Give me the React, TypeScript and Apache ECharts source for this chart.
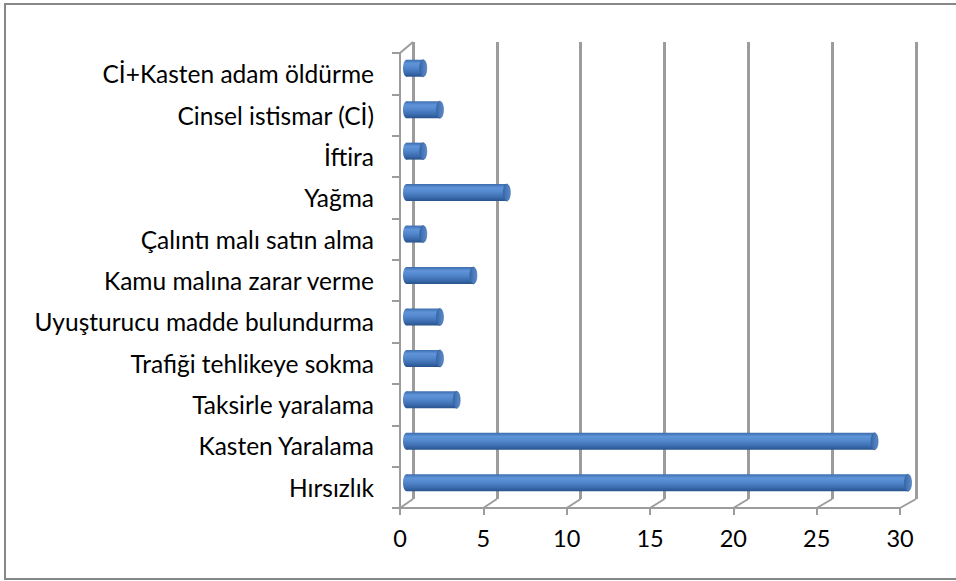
import React, { useEffect, useRef } from 'react';
import * as echarts from 'echarts';

const categories = [
  'Cİ+Kasten adam öldürme',
  'Cinsel istismar (Cİ)',
  'İftira',
  'Yağma',
  'Çalıntı malı satın alma',
  'Kamu malına zarar verme',
  'Uyuşturucu madde bulundurma',
  'Trafiği tehlikeye sokma',
  'Taksirle yaralama',
  'Kasten Yaralama',
  'Hırsızlık',
];
const values = [1, 2, 1, 6, 1, 4, 2, 2, 3, 28, 30];
const xTicks = [0, 5, 10, 15, 20, 25, 30];
const X_MIN = 0;
const X_MAX = 30;
const X_INTERVAL = 5;

const FRONT = { left: 400, top: 53, width: 500, height: 455 };
const BACK = { left: 413, top: 42, width: 503, height: 457 };
const MID = { left: 406.5, top: 47.5, width: 501.5, height: 456 };
const GRID_COLOR = '#9c9c9c';
const FONT = 'Lato, "Open Sans", sans-serif';

export default function App() {
  const ref = useRef<HTMLDivElement>(null);
  useEffect(() => {
    if (!ref.current) return;
    const chart = echarts.init(ref.current, null, { renderer: 'svg' });
    const barGrad = new echarts.graphic.LinearGradient(0, 0, 0, 1, [
      { offset: 0, color: '#3c6dae' },
      { offset: 0.22, color: '#5f94d9' },
      { offset: 0.45, color: '#5489cf' },
      { offset: 0.8, color: '#3a6aac' },
      { offset: 1, color: '#28528c' },
    ]);
    const capGrad = new echarts.graphic.LinearGradient(0, 0, 1, 0, [
      { offset: 0, color: '#3a68a8' },
      { offset: 1, color: '#5a8bcc' },
    ]);
    const option: any = {
      animation: false,
      backgroundColor: '#ffffff',
      graphic: [
        {
          type: 'rect',
          shape: { x: 5, y: 4, width: 960, height: 575 },
          style: { fill: 'none', stroke: '#878787', lineWidth: 2 },
          silent: true,
        },
      ],
      grid: [
        { ...FRONT, containLabel: false },
        { ...BACK, containLabel: false },
        { ...MID, containLabel: false },
      ],
      xAxis: [
        {
          gridIndex: 0,
          type: 'value',
          min: X_MIN,
          max: X_MAX,
          interval: X_INTERVAL,
          axisLine: { show: true, lineStyle: { color: GRID_COLOR, width: 2 } },
          axisTick: { show: true, length: 7, lineStyle: { color: GRID_COLOR, width: 2 } },
          splitLine: { show: false },
          axisLabel: { color: '#000', fontSize: 23.5, fontFamily: FONT, margin: 18 },
        },
        {
          gridIndex: 1,
          type: 'value',
          min: X_MIN,
          max: X_MAX,
          interval: X_INTERVAL,
          axisLine: { show: false },
          axisTick: { show: false },
          axisLabel: { show: false },
          splitLine: { show: true, lineStyle: { color: GRID_COLOR, width: 3 } },
        },
        {
          gridIndex: 2,
          type: 'value',
          min: X_MIN,
          max: X_MAX,
          interval: X_INTERVAL,
          show: false,
          splitLine: { show: false },
        },
      ],
      yAxis: [
        {
          gridIndex: 0,
          type: 'category',
          inverse: true,
          data: categories,
          axisLine: { show: true, lineStyle: { color: GRID_COLOR, width: 2 } },
          axisTick: { show: true, length: 8, lineStyle: { color: GRID_COLOR, width: 2 } },
          axisLabel: { color: '#000', fontSize: 24.5, fontFamily: FONT, margin: 26 },
          splitLine: { show: false },
        },
        {
          gridIndex: 1,
          type: 'value',
          min: 0,
          max: 1,
          show: false,
          splitLine: { show: false },
        },
        {
          gridIndex: 2,
          type: 'category',
          inverse: true,
          data: categories,
          show: false,
        },
      ],
      series: [
        {
          type: 'custom',
          xAxisIndex: 1,
          yAxisIndex: 1,
          silent: true,
          clip: false,
          data: [...xTicks.map((v) => [v, 0]), [X_MIN, 1]],
          renderItem: (params: any, api: any) => {
            const v = api.value(0);
            const yv = api.value(1);
            const back = api.coord([v, yv]);
            const fx = FRONT.left + ((v - X_MIN) / (X_MAX - X_MIN)) * FRONT.width;
            const fy = yv === 0 ? FRONT.top + FRONT.height : FRONT.top;
            return {
              type: 'line',
              shape: { x1: fx, y1: fy, x2: back[0], y2: back[1] },
              style: { stroke: GRID_COLOR, lineWidth: 2 },
            };
          },
        },
        {
          type: 'custom',
          xAxisIndex: 2,
          yAxisIndex: 2,
          clip: false,
          encode: { x: 0, y: 1 },
          data: values.map((v, i) => [v, i]),
          renderItem: (params: any, api: any) => {
            const v = api.value(0);
            const idx = api.value(1);
            const s = api.coord([X_MIN, idx]);
            const e = api.coord([v, idx]);
            const h = 17;
            const rx = 3.5;
            return {
              type: 'group',
              children: [
                {
                  type: 'ellipse',
                  shape: { cx: s[0], cy: s[1], rx, ry: h / 2 },
                  style: { fill: barGrad },
                },
                {
                  type: 'rect',
                  shape: { x: s[0], y: s[1] - h / 2, width: e[0] - s[0], height: h },
                  style: { fill: barGrad },
                },
                {
                  type: 'ellipse',
                  shape: { cx: e[0], cy: e[1], rx, ry: h / 2 },
                  style: { fill: capGrad, stroke: '#30609c', lineWidth: 0.6 },
                },
              ],
            };
          },
        },
      ],
    };
    chart.setOption(option);
    return () => chart.dispose();
  }, []);
  return (
    <div
      ref={ref}
      style={{ position: 'absolute', left: 0, top: 0, width: 956, height: 581 }}
    />
  );
}
